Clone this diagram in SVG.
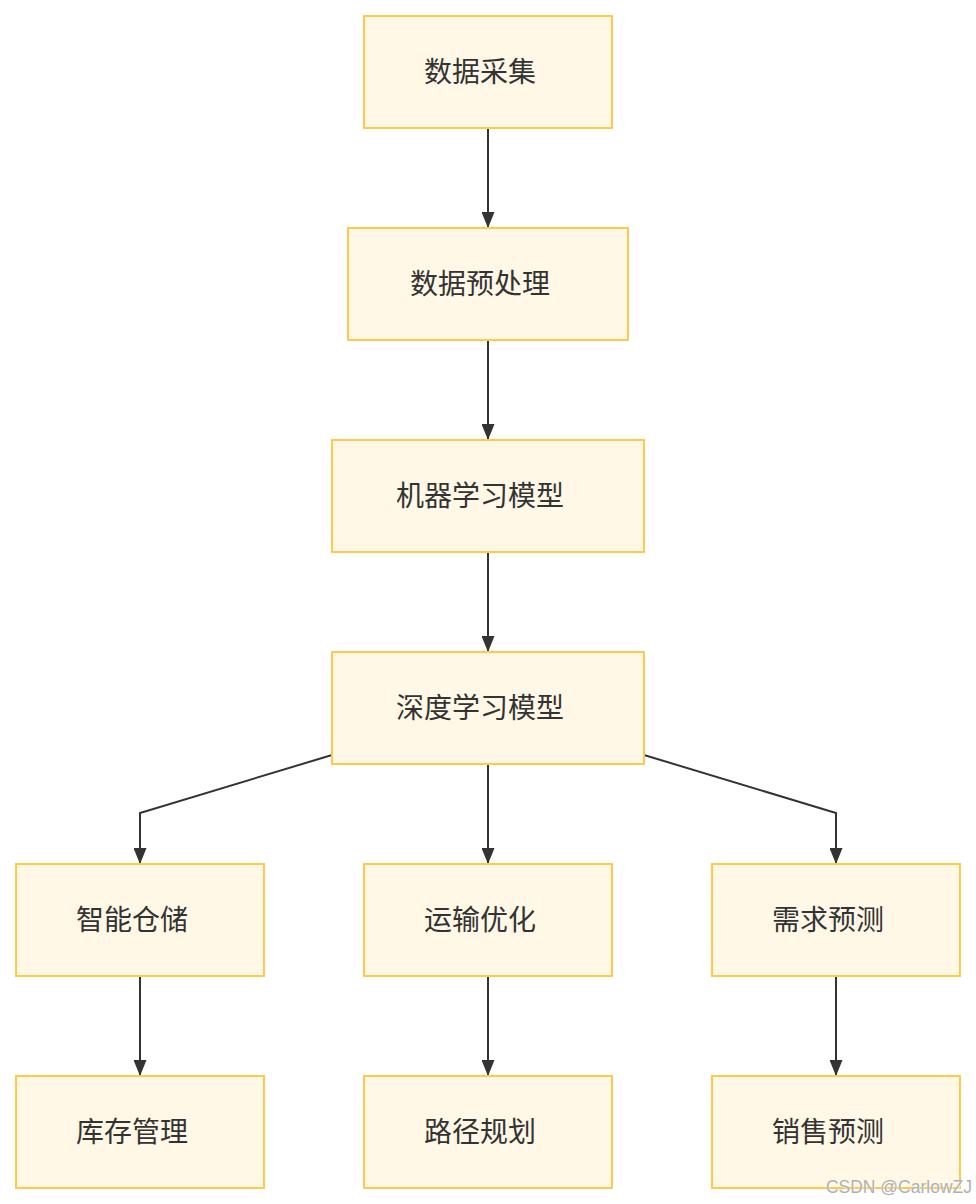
<svg xmlns="http://www.w3.org/2000/svg" width="976" height="1204" viewBox="0 0 976 1204">
<defs>
<marker id="arr" viewBox="0 0 16 13" refX="16" refY="6.5" markerWidth="16" markerHeight="13" markerUnits="userSpaceOnUse" orient="auto">
<path d="M0,0 L16,6.5 L0,13 z" fill="#333333"/>
</marker>
<style>
.box{fill:#FFF8E6;stroke:#FFC94A;stroke-width:2}
.lbl{font-family:"Noto Sans CJK SC","Noto Sans",sans-serif;font-size:28px;fill:#333333;text-anchor:middle;dominant-baseline:central}
.edge{fill:none;stroke:#333333;stroke-width:2;marker-end:url(#arr)}
</style>
</defs>
<rect width="976" height="1204" fill="#ffffff"/>
<g id="connectors">
<path class="edge" d="M488,128 L488,228"/>
<path class="edge" d="M488,340 L488,440"/>
<path class="edge" d="M488,552 L488,652"/>
<path class="edge" d="M488,764 L488,864"/>
<path class="edge" d="M332,755 L140,813 L140,864"/>
<path class="edge" d="M644,755 L836,813 L836,864"/>
<path class="edge" d="M140,976 L140,1076"/>
<path class="edge" d="M488,976 L488,1076"/>
<path class="edge" d="M836,976 L836,1076"/>
</g>
<g id="n1"><rect class="box" x="364" y="16" width="248" height="112"/><text class="lbl" x="480" y="70">数据采集</text></g>
<g id="n2"><rect class="box" x="348" y="228" width="280" height="112"/><text class="lbl" x="480" y="282">数据预处理</text></g>
<g id="n3"><rect class="box" x="332" y="440" width="312" height="112"/><text class="lbl" x="480" y="494">机器学习模型</text></g>
<g id="n4"><rect class="box" x="332" y="652" width="312" height="112"/><text class="lbl" x="480" y="706">深度学习模型</text></g>
<g id="n5"><rect class="box" x="16" y="864" width="248" height="112"/><text class="lbl" x="132" y="918">智能仓储</text></g>
<g id="n6"><rect class="box" x="364" y="864" width="248" height="112"/><text class="lbl" x="480" y="918">运输优化</text></g>
<g id="n7"><rect class="box" x="712" y="864" width="248" height="112"/><text class="lbl" x="828" y="918">需求预测</text></g>
<g id="n8"><rect class="box" x="16" y="1076" width="248" height="112"/><text class="lbl" x="132" y="1130">库存管理</text></g>
<g id="n9"><rect class="box" x="364" y="1076" width="248" height="112"/><text class="lbl" x="480" y="1130">路径规划</text></g>
<g id="n10"><rect class="box" x="712" y="1076" width="248" height="112"/><text class="lbl" x="828" y="1130">销售预测</text></g>
<text x="973" y="1194" text-anchor="end" font-family="Liberation Sans, Arial, sans-serif" font-size="17.5" fill="#ffffff" opacity="0.8">CSDN @CarlowZJ</text>
<text x="972" y="1193" text-anchor="end" font-family="Liberation Sans, Arial, sans-serif" font-size="17.5" fill="#b0b0b0">CSDN @CarlowZJ</text>
</svg>
